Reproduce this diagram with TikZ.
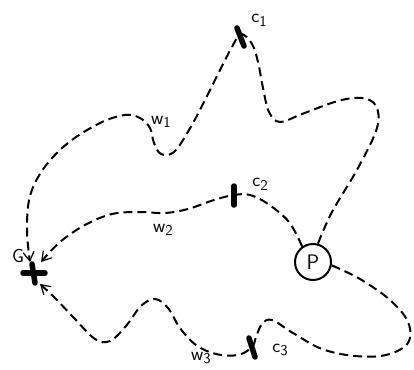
\documentclass[tikz,border=0pt]{standalone}
\usetikzlibrary{arrows.meta}
\newcommand\mysub[1]{\raisebox{-0.45ex}{\fontsize{15}{17}\selectfont#1}}
\begin{document}
\begin{tikzpicture}[x=1pt,y=-1pt,
  walk/.style={line width=2pt,dash pattern=on 9pt off 5pt,-{Straight Barb[length=9pt,width=11pt,line width=1.2pt]}},
  markbar/.style={line width=5.5pt,line cap=round},
  lbl/.style={font=\sffamily\fontsize{19}{21}\selectfont,inner sep=0pt},
  ppnode/.style={circle,draw,line width=2pt,minimum size=36pt,inner sep=0pt,font=\sffamily\fontsize{21}{23}\selectfont}]
\useasboundingbox (0,0) rectangle (414,369);
\node[ppnode] (P) at (313,262) {P};
\coordinate (G) at (34,272);
\coordinate (c1) at (241,34);
\coordinate (c2) at (234,195);
\coordinate (c3) at (252,347);
% walk 1
\draw[walk] plot[smooth,tension=0.6] coordinates {(P.75) (332,212) (358,168) (377,128) (376,106) (362,98) (338,101) (302,114) (280,122) (269,112) (263,88) (258,62) (252,44) (c1) (232,47) (219,72) (204,102) (189,130) (174,152) (161,154) (154,143) (150,128) (140,118) (125,115) (100,123) (68,143) (44,168) (30,196) (27,230) (30,262)};
% walk 2
\draw[walk] plot[smooth,tension=0.6] coordinates {(P.125) (289,222) (268,204) (250,195) (c2) (214,200) (188,209) (165,213) (140,212) (112,214) (85,225) (60,242) (41,262)};
% walk 3
\draw[walk] plot[smooth,tension=0.6] coordinates {(P.-10) (360,279) (390,300) (408,322) (408,343) (386,355) (355,356) (322,349) (293,333) (272,320) (262,324) (256,337) (c3) (238,355) (216,354) (196,345) (180,328) (168,308) (155,299) (141,306) (126,326) (110,341) (95,339) (74,318) (55,298) (40,284)};
% marks
\draw[markbar] (237,28) -- (244,46);
\draw[markbar] (234,186) -- (234,205);
\draw[markbar] (249,338) -- (255,357);
\draw[markbar] (23,273) -- (45,273);
\draw[markbar] (32,264) -- (35,283);
% labels
\node[lbl] at (259,20) {c\mysub{1}};
\node[lbl] at (260,184) {c\mysub{2}};
\node[lbl] at (280,350) {c\mysub{3}};
\node[lbl] at (161,122) {w\mysub{1}};
\node[lbl] at (163,230) {w\mysub{2}};
\node[lbl] at (201,358) {w\mysub{3}};
\node[lbl] at (18,256) {G};
\end{tikzpicture}
\end{document}
